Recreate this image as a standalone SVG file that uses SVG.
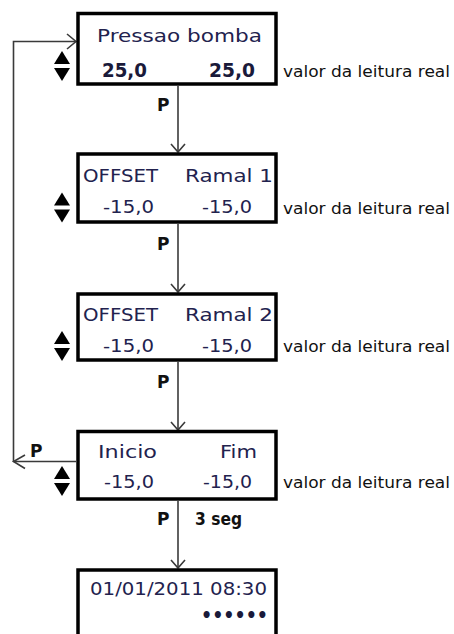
<svg xmlns="http://www.w3.org/2000/svg" width="454" height="634" viewBox="0 0 454 634">
<style>
.box{fill:#fff;stroke:#000;stroke-width:3.5}
.t{font-family:"DejaVu Sans",sans-serif;font-size:18px;fill:#22224e}
.tb{font-family:"DejaVu Sans",sans-serif;font-size:19px;font-weight:bold;fill:#1a1a3a}
.v{font-family:"DejaVu Sans",sans-serif;font-size:16px;fill:#111}
.p{font-family:"DejaVu Sans",sans-serif;font-size:17px;font-weight:bold;fill:#111}
.c{fill:none;stroke:#3a3a3a;stroke-width:1.6}
.ah{fill:none;stroke:#3a3a3a;stroke-width:1.6;stroke-linejoin:miter}
</style>
<defs>
<g id="ud">
<polygon points="-8,-2 0,-15 8,-2" fill="#000"/>
<polygon points="-8,2 0,15 8,2" fill="#000"/>
</g>
</defs>
<g id="connectors">
<line class="c" x1="178" y1="86" x2="178" y2="152"/>
<polyline class="ah" points="171,144 178,152 185,144"/>
<line class="c" x1="178" y1="224" x2="178" y2="292"/>
<polyline class="ah" points="171,284 178,292 185,284"/>
<line class="c" x1="178" y1="362" x2="178" y2="430"/>
<polyline class="ah" points="171,422 178,430 185,422"/>
<line class="c" x1="178" y1="501" x2="178" y2="568"/>
<polyline class="ah" points="171,560 178,568 185,560"/>
<line class="c" x1="76" y1="461.5" x2="13.5" y2="461.5"/>
<polyline class="ah" points="25,455 13.5,461.5 25,468.5"/>
<polyline class="c" points="13.5,461.5 13.5,41.5 76,41.5"/>
<polyline class="ah" points="67,34 76,41.5 67,49"/>
<text class="p" x="157" y="111">P</text>
<text class="p" x="157" y="250">P</text>
<text class="p" x="157" y="388">P</text>
<text class="p" x="157" y="525">P</text>
<text class="p" x="30" y="457">P</text>
<text class="p" x="195" y="525" textLength="47" lengthAdjust="spacingAndGlyphs">3 seg</text>
</g>
<g id="n1">
<rect class="box" x="78" y="13.5" width="198" height="70.5"/>
<text class="t" x="97" y="42" textLength="165" lengthAdjust="spacingAndGlyphs">Pressao bomba</text>
<text class="tb" x="102" y="77" textLength="45" lengthAdjust="spacingAndGlyphs">25,0</text>
<text class="tb" x="209" y="77" textLength="46" lengthAdjust="spacingAndGlyphs">25,0</text>
<use href="#ud" x="62" y="66"/>
<text class="v" x="283" y="77" textLength="167" lengthAdjust="spacingAndGlyphs">valor da leitura real</text>
</g>
<g id="n2">
<rect class="box" x="78" y="154" width="198" height="68"/>
<text class="t" x="83" y="182" textLength="75" lengthAdjust="spacingAndGlyphs">OFFSET</text>
<text class="t" x="185" y="182" textLength="88" lengthAdjust="spacingAndGlyphs">Ramal 1</text>
<text class="t" x="103" y="213" textLength="51" lengthAdjust="spacingAndGlyphs">-15,0</text>
<text class="t" x="202" y="213" textLength="50" lengthAdjust="spacingAndGlyphs">-15,0</text>
<use href="#ud" x="62" y="207.5"/>
<text class="v" x="283" y="214" textLength="167" lengthAdjust="spacingAndGlyphs">valor da leitura real</text>
</g>
<g id="n3">
<rect class="box" x="78" y="294" width="198" height="66"/>
<text class="t" x="83" y="321" textLength="75" lengthAdjust="spacingAndGlyphs">OFFSET</text>
<text class="t" x="185" y="321" textLength="88" lengthAdjust="spacingAndGlyphs">Ramal 2</text>
<text class="t" x="103" y="352" textLength="51" lengthAdjust="spacingAndGlyphs">-15,0</text>
<text class="t" x="202" y="352" textLength="50" lengthAdjust="spacingAndGlyphs">-15,0</text>
<use href="#ud" x="62" y="346"/>
<text class="v" x="283" y="352" textLength="167" lengthAdjust="spacingAndGlyphs">valor da leitura real</text>
</g>
<g id="n4">
<rect class="box" x="78" y="431.5" width="198" height="67.5"/>
<text class="t" x="98" y="458" textLength="59" lengthAdjust="spacingAndGlyphs">Inicio</text>
<text class="t" x="220" y="458" textLength="37" lengthAdjust="spacingAndGlyphs">Fim</text>
<text class="t" x="104" y="488" textLength="50" lengthAdjust="spacingAndGlyphs">-15,0</text>
<text class="t" x="203" y="488" textLength="49" lengthAdjust="spacingAndGlyphs">-15,0</text>
<use href="#ud" x="62" y="481"/>
<text class="v" x="283" y="488" textLength="167" lengthAdjust="spacingAndGlyphs">valor da leitura real</text>
</g>
<g id="n5">
<rect class="box" x="78" y="570" width="198" height="75"/>
<text class="t" x="90" y="595" textLength="177" lengthAdjust="spacingAndGlyphs">01/01/2011 08:30</text>
<text class="tb" x="201" y="622" textLength="67" lengthAdjust="spacingAndGlyphs">••••••</text>
</g>
</svg>
